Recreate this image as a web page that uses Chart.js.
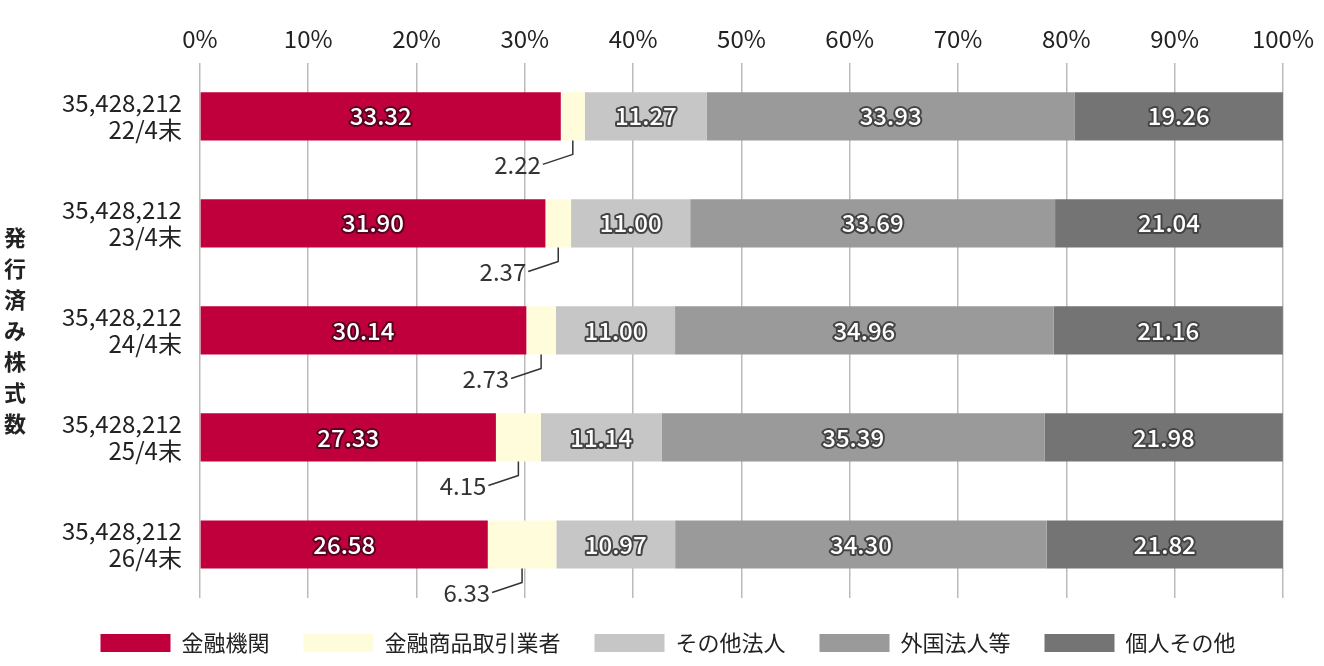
<!DOCTYPE html>
<html>
<head>
<meta charset="utf-8">
<script src="https://cdn.jsdelivr.net/npm/chart.js@4"></script>
<style>
  body { margin: 0; background: #fff; }
  #wrap { width: 1324px; height: 666px; }
</style>
</head>
<body>
<div id="wrap"><canvas id="c"></canvas></div>
<script>
// データ
const categories = [["35,428,212", "22/4末"], ["35,428,212", "23/4末"], ["35,428,212", "24/4末"], ["35,428,212", "25/4末"], ["35,428,212", "26/4末"]];
const seriesNames = ["金融機関", "金融商品取引業者", "その他法人", "外国法人等", "個人その他"];
const kinyu = [33.32, 31.90, 30.14, 27.33, 26.58];
const shoken = [2.22, 2.37, 2.73, 4.15, 6.33];
const sonota = [11.27, 11.00, 11.00, 11.14, 10.97];
const gaikoku = [33.93, 33.69, 34.96, 35.39, 34.30];
const kojin = [19.26, 21.04, 21.16, 21.98, 21.82];
const colors = ["#bf003d", "#fffcdc", "#c6c6c6", "#9a9a9a", "#747474"];
const yTitle = "発行済み株式数";

const FONT = "'Noto Sans CJK JP', 'Noto Sans', sans-serif";
const allSeries = [kinyu, shoken, sonota, gaikoku, kojin];

// ラベル描画
const labelPlugin = {
  id: "labels",
  afterDatasetsDraw(chart) {
    const ctx = chart.ctx;
    ctx.save();
    const bold = "500 24px " + FONT;
    ctx.textAlign = "center";
    ctx.textBaseline = "middle";
    chart.data.datasets.forEach((ds, di) => {
      const meta = chart.getDatasetMeta(di);
      meta.data.forEach((bar, i) => {
        const v = ds.data[i];
        if (di === 1) {
          // 引き出し線
          const y0 = bar.y + bar.height / 2;
          const xm = bar.x - (bar.x - bar.base) / 2;
          ctx.strokeStyle = "#333";
          ctx.lineWidth = 1.5;
          ctx.beginPath();
          ctx.moveTo(xm, y0);
          ctx.lineTo(xm, y0 + 14);
          ctx.lineTo(xm - 30, y0 + 24);
          ctx.stroke();
          ctx.font = "24px " + FONT;
          ctx.fillStyle = "#333";
          ctx.textAlign = "right";
          ctx.fillText(v.toFixed(2), xm - 32, y0 + 24);
          ctx.textAlign = "center";
          return;
        }
        ctx.font = bold;
        const x = (bar.x + bar.base) / 2;
        ctx.lineWidth = 4;
        ctx.lineJoin = "round";
        ctx.strokeStyle = di === 0 ? "#5a0020" : "#444";
        ctx.strokeText(v.toFixed(2), x, bar.y);
        ctx.fillStyle = "#fff";
        ctx.fillText(v.toFixed(2), x, bar.y);
      });
    });
    // 縦書きタイトル
    ctx.font = "bold 22px " + FONT;
    ctx.fillStyle = "#222";
    const area = chart.chartArea;
    const mid = (area.top + area.bottom) / 2;
    const step = 31;
    const start = mid - (yTitle.length - 1) * step / 2;
    [...yTitle].forEach((ch, k) => ctx.fillText(ch, 15, start + k * step));
    ctx.restore();
  }
};

new Chart(document.getElementById("c"), {
  type: "bar",
  data: {
    labels: categories,
    datasets: seriesNames.map((n, i) => ({
      label: n,
      data: allSeries[i],
      backgroundColor: colors[i],
      borderWidth: 0,
      barPercentage: 0.45,
      categoryPercentage: 1
    }))
  },
  options: {
    indexAxis: "y",
    responsive: true,
    maintainAspectRatio: false,
    animation: false,
    layout: { padding: { left: 52, right: 40, top: 14, bottom: 2 } },
    plugins: {
      legend: {
        position: "bottom",
        labels: {
          boxWidth: 70, boxHeight: 18, padding: 34,
          color: "#222", font: { size: 22, family: FONT }
        }
      },
      tooltip: { enabled: false }
    },
    scales: {
      x: {
        position: "top",
        stacked: true,
        min: 0, max: 100,
        ticks: { stepSize: 10, callback: v => v + "%", color: "#222", font: { size: 24, family: FONT }, padding: 10 },
        grid: { color: "#bbb", lineWidth: 1.5, drawTicks: false },
        border: { display: false }
      },
      y: {
        stacked: true,
        ticks: { color: "#222", font: { size: 24, family: FONT, lineHeight: 1.1 }, padding: 10 },
        grid: { display: false },
        border: { display: false }
      }
    }
  },
  plugins: [labelPlugin]
});
</script>
</body>
</html>
